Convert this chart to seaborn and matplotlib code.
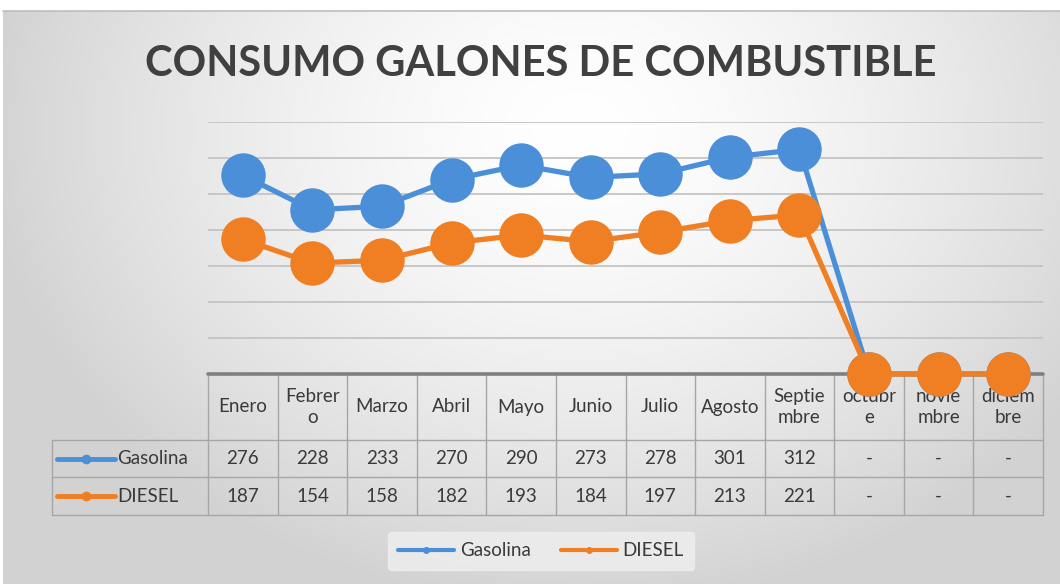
import numpy as np
import pandas as pd
import seaborn as sns
import matplotlib.pyplot as plt
import matplotlib.transforms as mtransforms
from matplotlib.lines import Line2D

# Datos del grafico
meses = ["Enero", "Febrero", "Marzo", "Abril", "Mayo", "Junio", "Julio",
         "Agosto", "Septiembre", "octubre", "noviembre", "diciembre"]
etiquetas_tabla = ["Enero", "Febrer\no", "Marzo", "Abril", "Mayo", "Junio", "Julio",
                   "Agosto", "Septie\nmbre", "octubr\ne", "novie\nmbre", "diciem\nbre"]
gasolina = [276, 228, 233, 270, 290, 273, 278, 301, 312, 0, 0, 0]
diesel = [187, 154, 158, 182, 193, 184, 197, 213, 221, 0, 0, 0]
series = ["Gasolina", "DIESEL"]
colores = {"Gasolina": "#4A8FD8", "DIESEL": "#F07E22"}

df = pd.DataFrame({"mes": meses, "idx": range(len(meses)),
                   "Gasolina": gasolina, "DIESEL": diesel})
largo = df.melt(id_vars=["mes", "idx"], value_vars=series,
                var_name="serie", value_name="galones")

sns.set_theme(style="white")
plt.rcParams["font.family"] = ["Lato", "DejaVu Sans"]

W, H = 1060, 584
fig = plt.figure(figsize=(W / 100, H / 100), dpi=100)
fig.patch.set_facecolor("white")


def fx(px):
    return px / W


def fy(py):
    return 1 - py / H


# fondo degradado
bg = fig.add_axes([fx(3), 0, 1 - fx(3), fy(11)], zorder=-1)
yy, xx = np.mgrid[11:H, 3:W]
t = np.sqrt(((xx - 580) / 600.0) ** 2 + ((yy - 130) / 480.0) ** 2)
t = np.clip(t, 0, 1) ** 1.5
gris = np.array([210, 210, 210]) / 255.0
img = (1 - t[..., None]) * np.ones(3) + t[..., None] * gris
bg.imshow(img, aspect="auto", extent=[0, 1, 0, 1])
bg.axis("off")
fig.add_artist(Line2D([fx(3), 1], [fy(11), fy(11)], color="#bdbdbd", lw=1.2))

# grafico de lineas
ax = fig.add_axes([fx(208), fy(374), fx(1043) - fx(208), fy(122) - fy(374)], zorder=5)
ax.patch.set_alpha(0)
sns.lineplot(data=largo, x="idx", y="galones", hue="serie", palette=colores,
             marker="o", markersize=32, markeredgewidth=0, linewidth=3.8,
             ax=ax, legend=False)
for ln in ax.lines:
    ln.set_clip_on(False)
ax.set_xlim(-0.5, len(meses) - 0.5)
ax.set_ylim(0, 350)
ax.set_yticks(np.arange(50, 351, 50))
ax.yaxis.grid(True, color="#c4c4c4", linewidth=1.3)
ax.set_yticklabels([])
ax.set_xticks([])
ax.set_xlabel("")
ax.set_ylabel("")
ax.tick_params(left=False, bottom=False)
for s in ax.spines.values():
    s.set_visible(False)

fig.text(fx(541), fy(64), "CONSUMO GALONES DE COMBUSTIBLE", ha="center", va="center",
         fontsize=30, fontweight="bold", color="#404040")

# tabla de datos
tr = mtransforms.blended_transform_factory(ax.transData, fig.transFigure)
filas_y = [fy(374), fy(440), fy(477), fy(515)]
x_izq = fx(52)
borde = "#a6a6a6"
texto = "#3a3a3a"
n = len(meses)
fig.canvas.draw()
x_der = fig.transFigure.inverted().transform(ax.transData.transform((n - 0.5, 0)))[0]

# linea superior gruesa
ax.add_line(Line2D([-0.5, n - 0.5], [0, 0], color="#7f7f7f", lw=2.6,
                   clip_on=False, zorder=1))
for yv in filas_y[1:]:
    fig.add_artist(Line2D([x_izq, x_der], [yv, yv], color=borde, lw=1))
fig.add_artist(Line2D([x_izq, x_izq], [filas_y[1], filas_y[3]], color=borde, lw=1))
for i in range(n + 1):
    fig.add_artist(Line2D([i - 0.5, i - 0.5], [filas_y[0], filas_y[3]],
                          color=borde, lw=1, transform=tr))

for i, lab in enumerate(etiquetas_tabla):
    fig.text(i, (filas_y[0] + filas_y[1]) / 2, lab, ha="center", va="center",
             fontsize=13.5, color=texto, transform=tr, linespacing=1.3)
for r, (nombre, vals) in enumerate(zip(series, [gasolina, diesel])):
    yc = (filas_y[r + 1] + filas_y[r + 2]) / 2
    for i, v in enumerate(vals):
        fig.text(i, yc, "-" if v == 0 else str(v), ha="center", va="center",
                 fontsize=13.5, color=texto, transform=tr)
    fig.add_artist(Line2D([fx(57), fx(86), fx(115)], [yc, yc, yc], color=colores[nombre],
                          lw=3.5, marker="o", markersize=6, markevery=[1]))
    fig.text(fx(117), yc, nombre, ha="left", va="center", fontsize=13.5, color=texto)

# leyenda inferior
handles = [Line2D([], [], color=colores[s], lw=3, marker="o", markersize=4)
           for s in series]
leg = fig.legend(handles, series, loc="center", bbox_to_anchor=(fx(541), fy(551)),
                 ncol=2, frameon=True, fontsize=13.5, handlelength=3.0,
                 columnspacing=1.6, handletextpad=0.3, borderpad=0.55)
leg.get_frame().set_facecolor("#efefef")
leg.get_frame().set_edgecolor("#efefef")
for txt in leg.get_texts():
    txt.set_color(texto)

fig.savefig("out.png", dpi=100)
